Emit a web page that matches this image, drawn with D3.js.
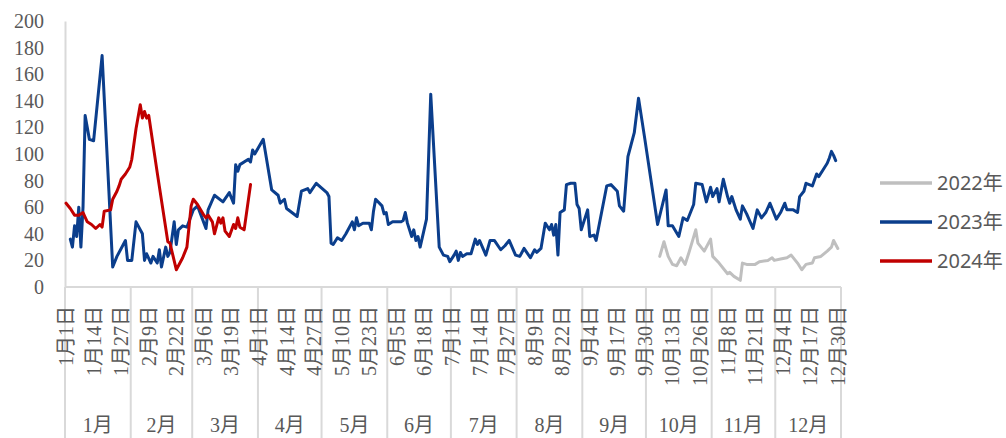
<!DOCTYPE html>
<html><head><meta charset="utf-8">
<script src="https://cdn.jsdelivr.net/npm/d3@7"></script>
<style>html,body{margin:0;padding:0;background:#fff;}</style>
</head><body><svg id="c" width="1006" height="438"></svg>
<script>
// day index in the 366-day calendar (0 = 1月1日)
const days2022 = [280,282,284,286,288,290,292,294,297,298,301,304,305,308,312,313,315,318,319,321,325,327,331,333,334,337,340,342,345,347,349,352,353,356,359,361,362,364];
const vals2022 = [23,34,23,17,16,22,17,27,43,33,27,36,23,18,10,11,8,5,18,17,17,19,20,22,20,21,22,24,18,13,17,18,22,23,27,30,35,29];

const days2023 = [2,3,4,5,6,7,8,9,11,13,17,22,24,28,29,31,33,36,37,38,40,41,43,44,45,47,48,49,51,52,53,55,57,60,62,66,67,70,74,77,79,80,81,82,86,87,88,89,93,97,100,101,103,104,109,111,114,115,118,123,124,125,126,128,130,132,135,136,137,138,140,143,144,145,146,149,150,151,152,154,158,159,160,161,163,164,165,166,167,170,172,176,178,180,181,183,184,185,186,187,189,191,193,194,195,198,200,202,205,207,209,212,214,216,219,221,222,224,226,228,229,230,231,232,233,235,236,238,240,241,242,243,246,247,249,250,255,257,260,261,263,265,268,270,273,279,283,284,286,289,291,293,296,297,300,302,304,305,307,308,310,312,313,314,316,318,319,321,324,326,328,330,332,335,337,339,340,343,345,346,348,349,352,354,355,357,359,360,361,362,363];
const vals2023 = [36,30,46,38,60,30,60,129,111,110,174,15,23,35,20,20,49,40,20,25,18,23,18,28,15,30,23,26,49,32,43,46,45,58,61,44,58,69,64,71,63,92,87,92,96,94,103,100,111,73,69,63,66,59,53,72,74,71,78,71,68,33,32,37,35,40,49,43,52,46,48,48,43,57,66,61,55,56,47,49,49,50,56,48,38,43,35,38,30,51,145,30,24,23,19,24,27,20,26,23,25,25,36,32,35,24,35,35,28,31,35,24,23,29,22,28,26,29,48,43,47,39,47,24,56,58,77,78,78,62,59,43,58,38,39,35,76,77,72,61,57,98,116,142,111,47,73,46,46,38,52,50,62,78,77,64,75,68,74,64,81,68,63,68,58,51,61,55,44,58,52,56,63,51,56,63,58,58,56,68,72,78,76,85,83,88,93,97,102,99,95];

const days2024 = [0,2,4,6,8,10,12,14,16,17,18,21,22,24,25,26,28,30,31,33,35,36,37,38,39,43,48,49,52,55,57,59,60,62,65,66,67,69,70,72,73,74,75,77,79,80,81,82,84,87];
const vals2024 = [63,59,54,54,56,49,47,44,47,45,57,58,66,72,76,81,85,90,96,119,137,127,132,127,129,86,34,33,13,22,30,61,66,62,54,52,54,49,40,52,48,52,42,38,47,44,52,45,43,77];

const seriesNames = ["2022年","2023年","2024年"];
const seriesColors = ["#BFBFBF","#0B3E8C","#C00000"];
const yTicks = [0,20,40,60,80,100,120,140,160,180,200];
const monthNames = ["1月","2月","3月","4月","5月","6月","7月","8月","9月","10月","11月","12月"];

const year = 2024;
const start = new Date(year,0,1);
const allDays = d3.timeDay.range(start, new Date(year+1,0,1));
const categories = allDays.map(d => (d.getMonth()+1)+"月"+d.getDate()+"日");

const svg = d3.select("#c");
svg.append("rect").attr("width",1006).attr("height",438).attr("fill","#fff");

const x = d3.scaleBand().domain(d3.range(categories.length)).range([65,841]).paddingInner(0).paddingOuter(0);
const bw = x.bandwidth();
const cx = i => x(i) + bw/2;
const y = d3.scaleLinear().domain([0,200]).range([287,21]);

const axisColor = "#D9D9D9";
const textColor = "#595959";
const serif = "'Liberation Serif','Times New Roman','Noto Sans CJK SC',serif";

// Y axis
const yAxis = svg.append("g").attr("transform","translate(65,0)")
  .call(d3.axisLeft(y).tickValues(yTicks).tickSize(0).tickPadding(21));
yAxis.select(".domain").attr("stroke",axisColor).attr("stroke-width",2);
yAxis.selectAll("text").attr("fill",textColor).attr("font-family",serif).attr("font-size",20);

// X axis line
svg.append("line").attr("x1",65).attr("x2",841).attr("y1",287).attr("y2",287)
  .attr("stroke",axisColor).attr("stroke-width",2);

// Month separators
const monthStarts = d3.range(12).map(m => d3.timeDay.count(start,new Date(year,m,1)));
const edges = monthStarts.concat([categories.length]);
svg.append("g").selectAll("line").data(edges).join("line")
  .attr("x1",d => d===categories.length ? x(d-1)+bw : x(d)).attr("x2",d => d===categories.length ? x(d-1)+bw : x(d))
  .attr("y1",287).attr("y2",438).attr("stroke",axisColor).attr("stroke-width",2);

// Date labels every 13 days
const labelIdx = d3.range(0,categories.length,13);
svg.append("g").selectAll("text").data(labelIdx).join("text")
  .attr("transform",i => `translate(${cx(i)},306) rotate(-90)`)
  .attr("text-anchor","end").attr("dy","0.35em")
  .attr("fill",textColor).attr("font-family",serif).attr("font-size",20)
  .text(i => categories[i]);

// Month labels
svg.append("g").selectAll("text").data(monthNames).join("text")
  .attr("x",(d,m) => (x(edges[m]) + (edges[m+1]===categories.length ? x(edges[m+1]-1)+bw : x(edges[m+1])))/2)
  .attr("y",425).attr("dy","0.35em").attr("text-anchor","middle")
  .attr("fill",textColor).attr("font-family",serif).attr("font-size",20)
  .text(d => d);

// Lines
const line = d3.line().x(d => cx(d[0])).y(d => y(d[1]));
const series = [
  d3.zip(days2022, vals2022),
  d3.zip(days2023, vals2023),
  d3.zip(days2024, vals2024)
];
svg.append("g").selectAll("path").data(series).join("path")
  .attr("d",line).attr("fill","none")
  .attr("stroke",(d,i) => seriesColors[i]).attr("stroke-width",3)
  .attr("stroke-linejoin","round").attr("stroke-linecap","round");

// Legend
const legendY = [183,222,261];
const lg = svg.append("g");
seriesNames.forEach((n,i) => {
  lg.append("line").attr("x1",880).attr("x2",932).attr("y1",legendY[i]).attr("y2",legendY[i])
    .attr("stroke",seriesColors[i]).attr("stroke-width",3.5);
  lg.append("text").attr("x",937).attr("y",legendY[i]).attr("dy","0.35em")
    .attr("fill",textColor).attr("font-family","'Noto Sans','Noto Sans CJK SC',sans-serif").attr("font-size",20)
    .text(n);
});
</script></body></html>
